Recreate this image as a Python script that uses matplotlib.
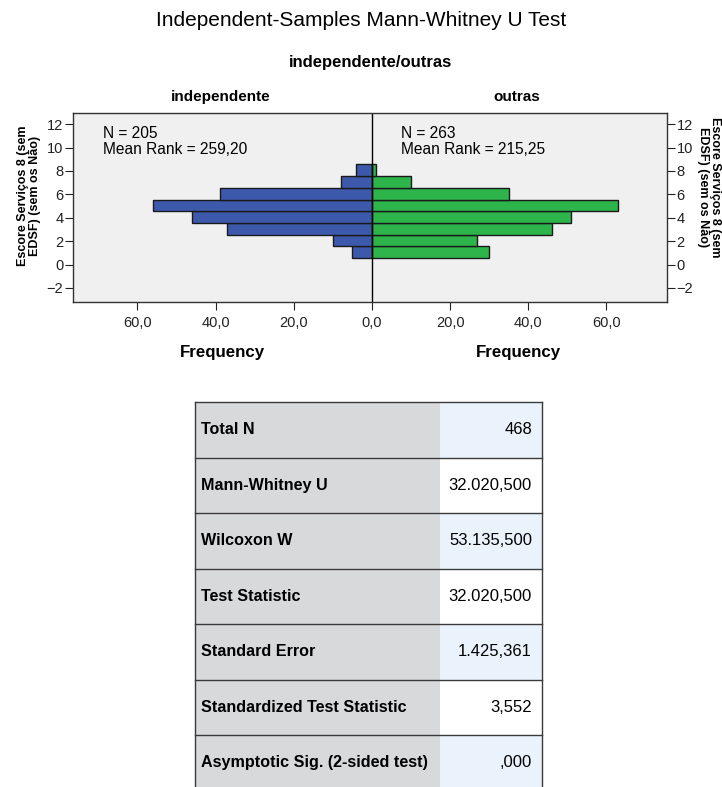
import matplotlib.pyplot as plt
import numpy as np
from matplotlib.patches import Rectangle
from matplotlib.ticker import FuncFormatter

plt.rcParams["font.family"] = ["Liberation Sans", "DejaVu Sans"]

# score bins (centres) and frequencies per group
score_bins = [1, 2, 3, 4, 5, 6, 7, 8]
freq_indep = [5, 10, 37, 46, 56, 39, 8, 4]
freq_outras = [30, 27, 46, 51, 63, 35, 10, 1]

group_names = ["independente", "outras"]
group_n = ["205", "263"]
group_mean_rank = ["259,20", "215,25"]

row_labels = [
    "Total N",
    "Mann-Whitney U",
    "Wilcoxon W",
    "Test Statistic",
    "Standard Error",
    "Standardized Test Statistic",
    "Asymptotic Sig. (2-sided test)",
]
row_values = ["468", "32.020,500", "53.135,500", "32.020,500", "1.425,361", "3,552", ",000"]

BLUE = "#3d59ab"
GREEN = "#2db44b"
W, H = 722, 787

fig = plt.figure(figsize=(W / 100, H / 100), dpi=100)
fig.patch.set_facecolor("white")


def fx(px):
    return px / W


def fy(py):
    return 1 - py / H


fig.text(fx(361), fy(21), "Independent-Samples Mann-Whitney U Test",
         ha="center", va="center", fontsize=15)
fig.text(fx(371), fy(63), "independente/outras", ha="center", va="center",
         fontsize=12, fontweight="bold")
fig.text(fx(221), fy(97), group_names[0], ha="center", va="center",
         fontsize=11, fontweight="bold")
fig.text(fx(517), fy(97), group_names[1], ha="center", va="center",
         fontsize=11, fontweight="bold")

# back-to-back histogram
ax = fig.add_axes([fx(73), fy(302), fx(667 - 73), (302 - 113) / H])
ax.set_facecolor("#f0f0f0")
edges = np.array(score_bins) - 0.45
ax.barh(edges, [-v for v in freq_indep], height=1.0, align="edge",
        color=BLUE, edgecolor="#1a1a1a", linewidth=1.0)
ax.barh(edges, freq_outras, height=1.0, align="edge",
        color=GREEN, edgecolor="#1a1a1a", linewidth=1.0)
ax.axvline(0, color="black", linewidth=1.0)
ax.set_xlim(-76.5, 75.5)
ax.set_ylim(-3.2, 12.95)
ax.set_xticks([-60, -40, -20, 0, 20, 40, 60])
ax.xaxis.set_major_formatter(FuncFormatter(lambda v, p: f"{abs(v):.1f}".replace(".", ",")))
ax.set_yticks(range(-2, 13, 2))
ax.tick_params(axis="both", labelsize=10.5, colors="#222222", length=6, width=0.8)
ax.tick_params(axis="y", right=True, labelright=True, pad=1)
ax.tick_params(axis="x", pad=4)
for s in ax.spines.values():
    s.set_color("#333333")
    s.set_linewidth(1.0)

ax.text(-68.8, 11.85, f"N = {group_n[0]}\nMean Rank = {group_mean_rank[0]}",
        ha="left", va="top", fontsize=11.2, linespacing=1.1)
ax.text(7.4, 11.85, f"N = {group_n[1]}\nMean Rank = {group_mean_rank[1]}",
        ha="left", va="top", fontsize=11.2, linespacing=1.1)

ylab = "Escore Serviços 8 (sem\nEDSF) (sem os Não)"
fig.text(fx(29), fy(196), ylab, rotation=90, ha="center", va="center",
         fontsize=9, fontweight="bold", linespacing=0.9)
fig.text(fx(709), fy(187), ylab, rotation=270, ha="center", va="center",
         fontsize=9, fontweight="bold", linespacing=0.9)
fig.text(fx(222), fy(353), "Frequency", ha="center", va="center",
         fontsize=12.2, fontweight="bold")
fig.text(fx(518), fy(353), "Frequency", ha="center", va="center",
         fontsize=12.2, fontweight="bold")

# results table
tx0, tx1, tsplit = 195, 542, 440
ty0, rh = 402, 55.5
tab = fig.add_axes([0, 0, 1, 1], zorder=-1)
tab.set_xlim(0, W)
tab.set_ylim(H, 0)
tab.axis("off")
for i, (lab, val) in enumerate(zip(row_labels, row_values)):
    y = ty0 + i * rh
    tab.add_patch(Rectangle((tx0, y), tsplit - tx0, rh, facecolor="#d8d9db", edgecolor="none"))
    tab.add_patch(Rectangle((tsplit, y), tx1 - tsplit, rh,
                            facecolor="#eaf3fc" if i % 2 == 0 else "white", edgecolor="none"))
    tab.plot([tx0, tx1], [y, y], color="#3a3a3a", linewidth=1.0)
    tab.text(tx0 + 6, y + rh / 2, lab, ha="left", va="center",
             fontsize=11.6, fontweight="bold")
    tab.text(tx1 - 10, y + rh / 2, val, ha="right", va="center", fontsize=12)
tab.plot([tx0, tx0], [ty0, ty0 + 7 * rh], color="#3a3a3a", linewidth=1.0)
tab.plot([tx1, tx1], [ty0, ty0 + 7 * rh], color="#3a3a3a", linewidth=1.0)

fig.savefig("out.png", dpi=100)
